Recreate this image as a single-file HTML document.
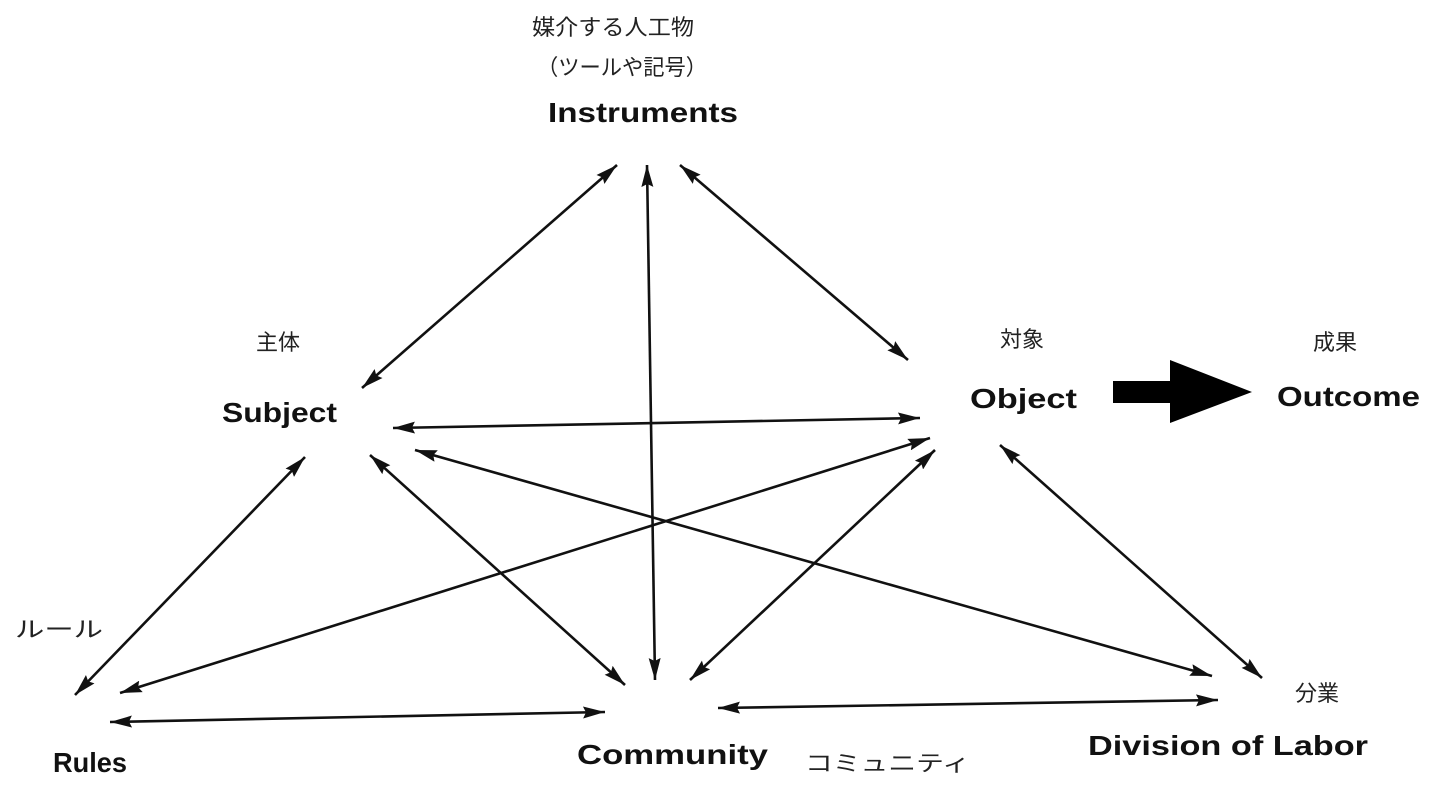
<!DOCTYPE html>
<html><head><meta charset="utf-8"><style>
html,body{margin:0;padding:0;background:#fff;}
svg{display:block;}
.en{font-family:"Liberation Sans",sans-serif;font-weight:bold;font-size:28px;fill:#111;}
.jp{font-family:"Liberation Sans","Noto Sans CJK JP",sans-serif;font-size:22px;fill:#222;}
</style></head><body>
<svg width="1439" height="799" viewBox="0 0 1439 799" xmlns="http://www.w3.org/2000/svg">
<defs>
<marker id="b" viewBox="0 0 22 12" refX="22" refY="6" markerWidth="22" markerHeight="12" markerUnits="userSpaceOnUse" orient="auto-start-reverse">
<path d="M0,0 L22,6 L0,12 L3,6 z" fill="#111"/>
</marker>
</defs>
<g stroke="#111" stroke-width="2.6" fill="none" marker-start="url(#b)" marker-end="url(#b)">
<line x1="362" y1="388" x2="617" y2="165"/>
<line x1="647" y1="165" x2="655" y2="680"/>
<line x1="680" y1="165" x2="908" y2="360"/>
<line x1="393" y1="428" x2="920" y2="418"/>
<line x1="305" y1="457" x2="75" y2="695"/>
<line x1="370" y1="455" x2="625" y2="685"/>
<line x1="415" y1="450" x2="1212" y2="676"/>
<line x1="930" y1="438" x2="120" y2="693"/>
<line x1="935" y1="450" x2="690" y2="680"/>
<line x1="1000" y1="445" x2="1262" y2="678"/>
<line x1="110" y1="722" x2="605" y2="712"/>
<line x1="718" y1="708" x2="1218" y2="700"/>
</g>
<path d="M1113,381 L1170,381 L1170,360 L1252,392 L1170,423 L1170,403 L1113,403 z" fill="#000"/>
<text class="jp" x="532" y="35" textLength="162" lengthAdjust="spacingAndGlyphs">媒介する人工物</text>
<text class="jp" x="537" y="75" textLength="170" lengthAdjust="spacingAndGlyphs">（ツールや記号）</text>
<text class="en" x="548" y="122" textLength="190" lengthAdjust="spacingAndGlyphs">Instruments</text>
<text class="jp" x="256" y="350">主体</text>
<text class="en" x="222" y="422" textLength="115" lengthAdjust="spacingAndGlyphs">Subject</text>
<text class="jp" x="1000" y="347">対象</text>
<text class="en" x="970" y="408" textLength="107" lengthAdjust="spacingAndGlyphs">Object</text>
<text class="jp" x="1313" y="350">成果</text>
<text class="en" x="1277" y="406" textLength="143" lengthAdjust="spacingAndGlyphs">Outcome</text>
<text class="jp" x="15" y="637" textLength="88" lengthAdjust="spacingAndGlyphs">ルール</text>
<text class="en" x="53" y="772" textLength="74" lengthAdjust="spacingAndGlyphs">Rules</text>
<text class="en" x="577" y="764" textLength="191" lengthAdjust="spacingAndGlyphs">Community</text>
<text class="jp" x="805" y="771" textLength="165" lengthAdjust="spacingAndGlyphs">コミュニティ</text>
<text class="jp" x="1295" y="701">分業</text>
<text class="en" x="1088" y="755" textLength="280" lengthAdjust="spacingAndGlyphs">Division of Labor</text>
</svg>
</body></html>
